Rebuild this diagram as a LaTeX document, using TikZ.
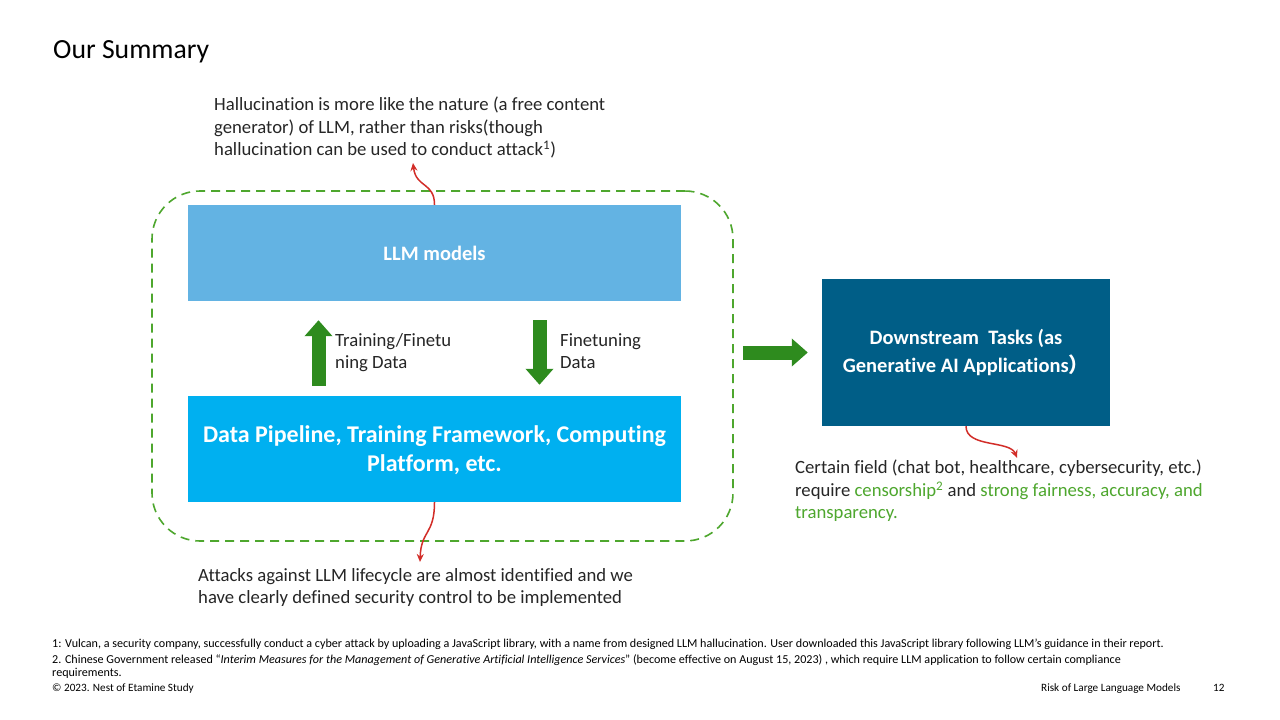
\documentclass[tikz,border=0pt]{standalone}
\usepackage{fontspec}
\setmainfont{Carlito}[Ligatures=NoCommon]
\newfontfamily\cjk{Noto Sans CJK SC}
\usetikzlibrary{positioning}
\usetikzlibrary{arrows.meta}
\usetikzlibrary{calc}

\definecolor{llmBlue}{RGB}{99,179,227}
\definecolor{pipeBlue}{RGB}{0,176,240}
\definecolor{taskBlue}{RGB}{0,94,135}
\definecolor{arrowGreen}{RGB}{46,139,30}
\definecolor{noteGreen}{RGB}{78,167,46}
\definecolor{riskRed}{RGB}{210,45,40}
\definecolor{bodyGray}{RGB}{38,38,38}

\begin{document}
\begin{tikzpicture}[x=1pt,y=-1pt,
        box/.style={inner sep=0pt,text=white,align=center},
        note/.style={inner sep=0pt,anchor=north west,align=left,text=bodyGray,font=\fontsize{18.7}{22.5}\selectfont},
        fatArrow/.style={draw=arrowGreen,line width=14pt,-{Triangle[width=27pt,length=16pt]}},
        riskArrow/.style={draw=riskRed,line width=1.5pt,-{Stealth[length=8pt,width=7pt]}},
        foot/.style={inner sep=0pt,anchor=base west,font=\fontsize{12.1}{13}\selectfont}]
        \useasboundingbox[fill=white] (0,0) rectangle (1280,720);

        \node[inner sep=0pt,anchor=base west,font=\fontsize{27.7}{32}\selectfont] (title) at (53,58) {Our Summary};

        \node[draw=noteGreen,line width=1.6pt,dash pattern=on 9pt off 6pt,rounded corners=48pt,
            minimum width=581pt,minimum height=350pt] (frame) at (442.5,366) {};
        \node[box,fill=llmBlue,minimum width=493pt,minimum height=96pt,
            font=\bfseries\fontsize{20.5}{24}\selectfont] (llm) at (434.5,253) {LLM models};
        \node[box,fill=pipeBlue,minimum width=493pt,minimum height=106pt,
            font=\bfseries\fontsize{24}{29}\selectfont] (pipe) at (434.5,449)
            {\rule{0pt}{20pt}Data Pipeline, Training Framework, Computing\\Platform, etc.};
        \node[box,fill=taskBlue,minimum width=288pt,minimum height=147pt,
            font=\bfseries\fontsize{20.5}{28}\selectfont] (task) at (966,352.5)
            {Downstream\ \ Tasks (as\\Generative AI Applications{\cjk ）}};

        \draw[fatArrow,shorten <=10pt,shorten >=19pt] ([xshift=-116pt]pipe.north) -- ([xshift=-116pt]llm.south);
        \draw[fatArrow,shorten <=19pt,shorten >=11pt] ([xshift=105pt]llm.south) -- ([xshift=105pt]pipe.north);
        \draw[fatArrow,shorten <=9pt,shorten >=14pt] (frame.east |- task.west) -- (task.west);

        \node[note] (trainLabel) at (335,333) {Training/Finetu\\ning Data};
        \node[note] (tuneLabel) at (560,333) {Finetuning\\Data};

        \node[note] (halluc) at (214,97) {Hallucination is more like the nature (a free content\\generator) of LLM, rather than risks(though\\hallucination can be used to conduct attack\textsuperscript{1})};
        \node[note] (attacks) at (198,568) {Attacks against LLM lifecycle are almost identified and we\\have clearly defined security control to be implemented};
        \node[note] (fields) at (795,460) {Certain field (chat bot, healthcare, cybersecurity, etc.)\\require \textcolor{noteGreen}{censorship\textsuperscript{2}} and \textcolor{noteGreen}{strong fairness, accuracy, and}\\\textcolor{noteGreen}{transparency.}};

        \coordinate (hallTip) at (413,163);
        \coordinate (attackTip) at (420,562);
        \coordinate (fieldTip) at (1017,458);
        \draw[riskArrow] (llm.north) .. controls (434.5,182) and (416,188) .. (hallTip);
        \draw[riskArrow] (pipe.south) .. controls (434.5,535) and (421,530) .. (attackTip);
        \draw[riskArrow] (task.south) .. controls (966,448) and (1010,440) .. (fieldTip);

        \node[foot] (noteOne) at (52,647) {1: Vulcan, a security company, successfully conduct a cyber attack by uploading a JavaScript library, with a name from designed LLM hallucination. User downloaded this JavaScript library following LLM’s guidance in their report.};
        \node[foot] (noteTwo) at (52,663) {2. Chinese Government released “\textit{Interim Measures for the Management of Generative Artificial Intelligence Services}” (become effective on August 15, 2023) , which require LLM application to follow certain compliance};
        \node[foot] (noteTwoEnd) at (52,676) {requirements.};
        \node[foot,font=\fontsize{11.2}{13}\selectfont] (copy) at (52,691) {© 2023. Nest of Etamine Study};
        \node[foot,font=\fontsize{11.2}{13}\selectfont] (deck) at (1041,691) {Risk of Large Language Models};
        \node[foot,font=\fontsize{11.2}{13}\selectfont] (page) at (1213,691) {12};
\end{tikzpicture}
\end{document}
